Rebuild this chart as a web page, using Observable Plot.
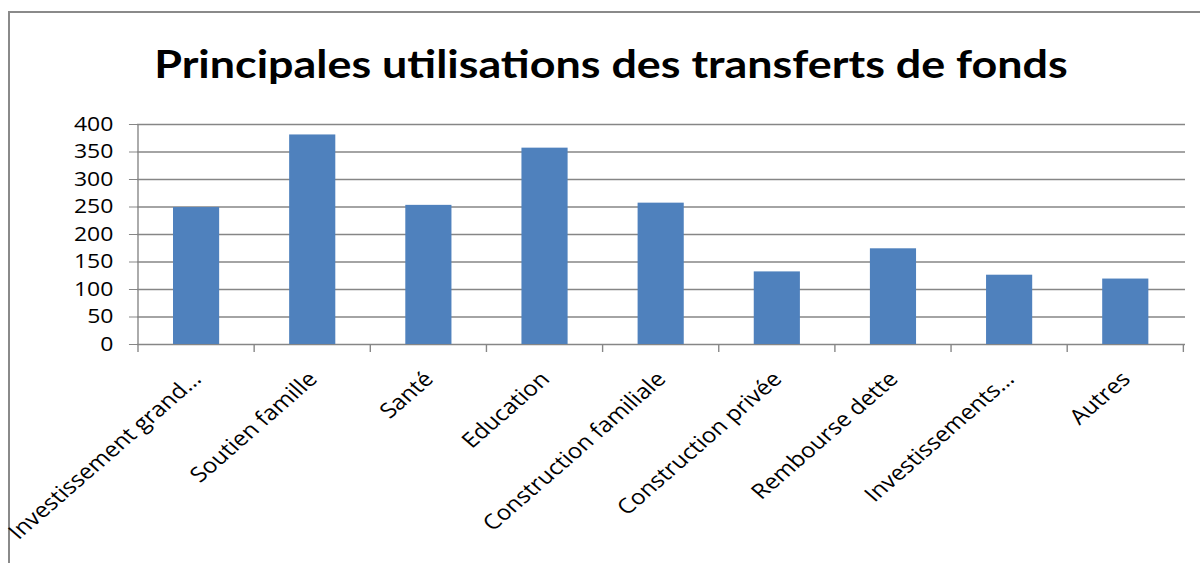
<!DOCTYPE html>
<html>
<head>
<meta charset="utf-8">
<script src="https://cdn.jsdelivr.net/npm/d3@7"></script>
<script src="https://cdn.jsdelivr.net/npm/@observablehq/plot@0.6"></script>
<style>
  html, body { margin: 0; padding: 0; background: #fff; }
  #page { position: relative; width: 1200px; height: 563px; overflow: hidden; background: #fff; }
  #frame { position: absolute; left: 8px; top: 11px; width: 1250px; height: 620px; border: 2.5px solid #8a8a8a; box-sizing: border-box; }
  #title { position: absolute; left: 0; width: 1222px; top: 44px; text-align: center; font-family: Lato, sans-serif; font-weight: bold; font-size: 39px; color: #000; line-height: 1; transform: scaleX(1.15); transform-origin: 611px 0; white-space: nowrap; }
  #chart { position: absolute; left: 0; top: 100px; }
</style>
</head>
<body>
<div id="page">
  <div id="frame"></div>
  <div id="title">Principales utilisations des transferts de fonds</div>
  <div id="chart"></div>
</div>
<script>
const categories = ["Investissement grand…", "Soutien famille", "Santé", "Education", "Construction familiale", "Construction privée", "Rembourse dette", "Investissements…", "Autres"];
const values = [249, 381, 253, 357, 257, 132, 174, 126, 119];
const yTicks = [0, 50, 100, 150, 200, 250, 300, 350, 400];

const data = categories.map((c, i) => ({category: c, value: values[i]}));
const gridColor = "#868686";
// the reference picture is stretched horizontally; draw narrower and stretch the SVG
const stretch = 1.15;
const outW = 1200, outH = 463;
const W = outW / stretch;

function axisLines(index, scales, vals, dimensions) {
  const x = scales.x, y = scales.y;
  const step = x(categories[1]) - x(categories[0]);
  const xs = categories.map(c => x(c));
  xs.push(x(categories[categories.length - 1]) + step);
  const y0 = y(0);
  const g = d3.create("svg:g").attr("stroke", gridColor).attr("stroke-width", 1.2);
  g.selectAll("line.tick").data(xs).join("line")
    .attr("x1", d => d).attr("x2", d => d).attr("y1", y0).attr("y2", y0 + 8);
  g.append("line")
    .attr("x1", xs[0]).attr("x2", xs[0]).attr("y1", y(400)).attr("y2", y0);
  return g.node();
}

const chart = Plot.plot({
  width: W,
  height: outH,
  marginTop: 24,
  marginBottom: 219,
  marginLeft: 137 / stretch,
  marginRight: 15 / stretch,
  style: {fontFamily: "'Open Sans', sans-serif", background: "transparent", overflow: "visible"},
  x: {domain: categories, padding: 0, axis: null},
  y: {domain: [0, 400], axis: null},
  marks: [
    Plot.ruleY(yTicks, {y: d => d, stroke: gridColor, strokeWidth: 1.3, strokeOpacity: 1}),
    Plot.barY(data, {x: "category", y: "value", fill: "#4F81BD", insetLeft: 35 / stretch, insetRight: 35 / stretch}),
    axisLines,
    Plot.axisY({ticks: yTicks, tickSize: 7, tickPadding: 14, tickFormat: d => String(d), fontSize: 20, stroke: gridColor, color: "#000", label: null}),
    Plot.text(data, {x: "category", y: 0, text: "category", rotate: -45, textAnchor: "end", lineAnchor: "bottom", dx: 5, dy: 36, fontSize: 21, fill: "#000"})
  ]
});
d3.select(chart).selectAll("g[aria-label='y-axis tick label']").attr("fill", "#000");
chart.setAttribute("width", outW);
chart.setAttribute("height", outH);
chart.setAttribute("viewBox", `0 0 ${W} ${outH}`);
chart.setAttribute("preserveAspectRatio", "none");
chart.style.width = outW + "px";
chart.style.height = outH + "px";
chart.style.maxWidth = "none";
document.getElementById("chart").appendChild(chart);
</script>
</body>
</html>
